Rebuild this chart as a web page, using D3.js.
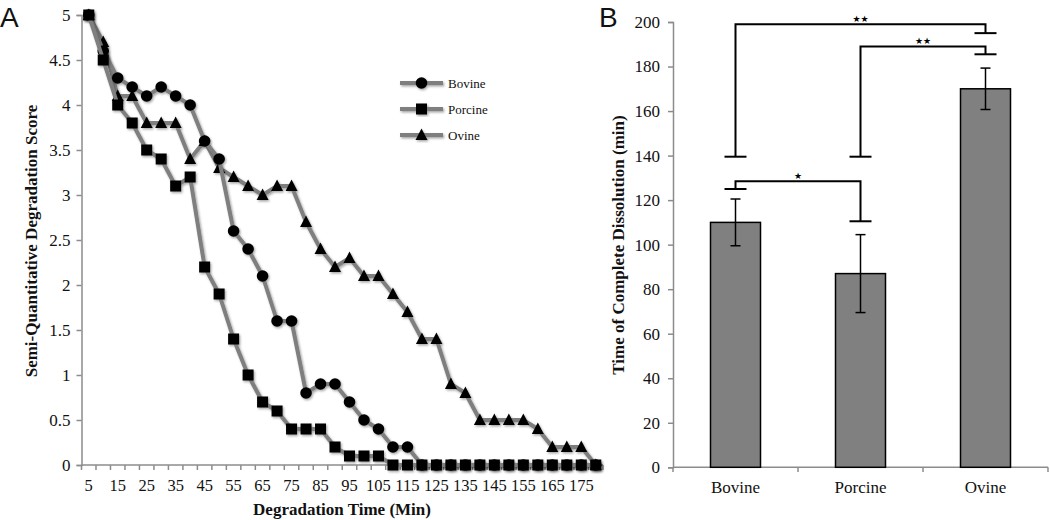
<!DOCTYPE html>
<html>
<head>
<meta charset="utf-8">
<script src="https://cdn.jsdelivr.net/npm/d3@7"></script>
<style>
  html, body { margin: 0; padding: 0; background: #fff; }
  svg { display: block; }
</style>
</head>
<body>
<svg id="chart" width="1050" height="520"></svg>
<script>
// ---------- Data: panel A ----------
const times = [5,10,15,20,25,30,35,40,45,50,55,60,65,70,75,80,85,90,95,100,105,110,115,120,125,130,135,140,145,150,155,160,165,170,175,180];
const bovine  = [5,4.6,4.3,4.2,4.1,4.2,4.1,4.0,3.6,3.4,2.6,2.4,2.1,1.6,1.6,0.8,0.9,0.9,0.7,0.5,0.4,0.2,0.2,0,0,0,0,0,0,0,0,0,0,0,0,0];
const porcine = [5,4.5,4.0,3.8,3.5,3.4,3.1,3.2,2.2,1.9,1.4,1.0,0.7,0.6,0.4,0.4,0.4,0.2,0.1,0.1,0.1,0,0,0,0,0,0,0,0,0,0,0,0,0,0,0];
const ovine   = [5,4.7,4.1,4.1,3.8,3.8,3.8,3.4,3.6,3.3,3.2,3.1,3.0,3.1,3.1,2.7,2.4,2.2,2.3,2.1,2.1,1.9,1.7,1.4,1.4,0.9,0.8,0.5,0.5,0.5,0.5,0.4,0.2,0.2,0.2,0];
const seriesNames = ["Bovine","Porcine","Ovine"];
const seriesShapes = ["circle","square","triangle"];
const xTickLabels = [5,15,25,35,45,55,65,75,85,95,105,115,125,135,145,155,165,175];
const yTicksA = [0,0.5,1,1.5,2,2.5,3,3.5,4,4.5,5];

// ---------- Data: panel B ----------
const groups = ["Bovine","Porcine","Ovine"];
const dissolution = [110, 87, 170];
const dissolutionErr = [10.5, 17.5, 9.3];
const yTicksB = [0,20,40,60,80,100,120,140,160,180,200];
const brackets = [
  {from:"Bovine",  to:"Ovine",   start:139.5, top:199,   end:195,   label:"★★"},
  {from:"Porcine", to:"Ovine",   start:139.5, top:189,   end:185.5, label:"★★"},
  {from:"Bovine",  to:"Porcine", start:125,   top:128.5, end:110.5, label:"★"}
];

const svg = d3.select("#chart");
const serif = "'Liberation Serif', 'Times New Roman', serif";
const sans = "'Liberation Sans', Arial, sans-serif";
const axisGrey = "#8c8c8c";
const fs = 17;
const fsTick = 16.5;

const defs = svg.append("defs");
const f = defs.append("filter").attr("id","shadow").attr("x","-20%").attr("y","-20%").attr("width","140%").attr("height","140%");
f.append("feDropShadow").attr("dx",1.2).attr("dy",1.5).attr("stdDeviation",1.1).attr("flood-color","#000").attr("flood-opacity",0.35);

// ================= Panel A =================
const xA = d3.scaleBand().domain(times).range([81.5, 603]).padding(0);
const yA = d3.scaleLinear().domain([0,5]).range([465, 15]);

// Y axis
const gyA = svg.append("g").attr("transform","translate(81.5,0)")
  .call(d3.axisLeft(yA).tickValues(yTicksA).tickSize(5).tickPadding(6).tickFormat(d => d));
gyA.select(".domain").attr("stroke", axisGrey).attr("stroke-width", 1.5);
gyA.selectAll(".tick line").attr("stroke", axisGrey).attr("stroke-width", 1.5);
gyA.selectAll("text").attr("font-family", serif).attr("font-size", fs).attr("fill","#111");

// X axis: domain line + ticks at band edges + labels
const edges = times.map(t => xA(t)).concat([xA.range()[1]]);
svg.append("line").attr("x1", 81.5).attr("x2", 603).attr("y1", 465).attr("y2", 465)
  .attr("stroke", axisGrey).attr("stroke-width", 1.5);
svg.append("g").selectAll("line").data(edges).join("line")
  .attr("x1", d => d).attr("x2", d => d).attr("y1", 465).attr("y2", 470)
  .attr("stroke", axisGrey).attr("stroke-width", 1.5);
svg.append("g").selectAll("text").data(xTickLabels).join("text")
  .attr("x", d => xA(d) + xA.bandwidth()/2).attr("y", 491)
  .attr("text-anchor","middle").attr("font-family", serif).attr("font-size", fsTick).attr("fill","#111")
  .text(d => d);

// Axis titles
svg.append("text").attr("x", 342).attr("y", 515).attr("text-anchor","middle")
  .attr("font-family", serif).attr("font-weight","bold").attr("font-size", fs).attr("fill","#111")
  .text("Degradation Time (Min)");
svg.append("text").attr("transform","translate(37,241) rotate(-90)").attr("text-anchor","middle")
  .attr("font-family", serif).attr("font-weight","bold").attr("font-size", fs).attr("fill","#111")
  .text("Semi-Quantitative Degradation Score");

// Series
const allSeries = [bovine, porcine, ovine];
const line = d3.line().x((d,i) => xA(times[i]) + xA.bandwidth()/2).y(d => yA(d));
function drawMarker(g, shape, cx, cy) {
  if (shape === "circle") {
    g.append("circle").attr("cx", cx).attr("cy", cy).attr("r", 5.8).attr("fill","#000");
  } else if (shape === "square") {
    g.append("rect").attr("x", cx-5.5).attr("y", cy-5.5).attr("width",11).attr("height",11).attr("fill","#000");
  } else {
    const s = 12;
    g.append("path").attr("d", `M${cx},${cy-s*0.55}L${cx+s/2},${cy+s*0.42}L${cx-s/2},${cy+s*0.42}Z`).attr("fill","#000");
  }
}
// draw order: ovine, bovine, porcine (porcine squares on top at zero)
[2,0,1].forEach(si => {
  const g = svg.append("g").attr("filter","url(#shadow)");
  g.append("path").datum(allSeries[si]).attr("d", line)
    .attr("fill","none").attr("stroke","#7f7f7f").attr("stroke-width",4).attr("stroke-linejoin","round");
  allSeries[si].forEach((v,i) => drawMarker(g, seriesShapes[si], xA(times[i]) + xA.bandwidth()/2, yA(v)));
});

// Legend
const legY = [83, 109, 135];
seriesNames.forEach((name, i) => {
  const g = svg.append("g").attr("filter","url(#shadow)");
  g.append("line").attr("x1", 400).attr("x2", 443).attr("y1", legY[i]).attr("y2", legY[i])
    .attr("stroke","#7f7f7f").attr("stroke-width",4);
  drawMarker(g, seriesShapes[i], 421.5, legY[i]);
  svg.append("text").attr("x", 448).attr("y", legY[i] + 4.5)
    .attr("font-family", serif).attr("font-size", 13).attr("fill","#111").text(name);
});

svg.append("text").attr("x", 0).attr("y", 26.5).attr("font-family", sans)
  .attr("font-size", 28).attr("fill","#111").text("A");

// ================= Panel B =================
const xB = d3.scaleBand().domain(groups).range([673, 1048]).paddingInner(0.6).paddingOuter(0.3);
const yB = d3.scaleLinear().domain([0,200]).range([467.3, 22]);
const cx = g => xB(g) + xB.bandwidth()/2;

const gyB = svg.append("g").attr("transform","translate(673,0)")
  .call(d3.axisLeft(yB).tickValues(yTicksB).tickSize(5).tickPadding(8).tickFormat(d => d));
gyB.select(".domain").attr("stroke", axisGrey).attr("stroke-width", 1.5);
gyB.selectAll(".tick line").attr("stroke", axisGrey).attr("stroke-width", 1.5);
gyB.selectAll("text").attr("font-family", serif).attr("font-size", fs).attr("fill","#111");

// X axis B
const step = xB.step();
const edgesB = d3.range(groups.length + 1).map(i => 673 + i * step);
svg.append("line").attr("x1", 673).attr("x2", 1048).attr("y1", 467.3).attr("y2", 467.3)
  .attr("stroke", axisGrey).attr("stroke-width", 1.5);
svg.append("g").selectAll("line").data(edgesB).join("line")
  .attr("x1", d => d).attr("x2", d => d).attr("y1", 467.3).attr("y2", 472)
  .attr("stroke", axisGrey).attr("stroke-width", 1.5);
svg.append("g").selectAll("text").data(groups).join("text")
  .attr("x", d => cx(d)).attr("y", 493).attr("text-anchor","middle")
  .attr("font-family", serif).attr("font-size", fs).attr("fill","#111").text(d => d);

svg.append("text").attr("transform","translate(624,245) rotate(-90)").attr("text-anchor","middle")
  .attr("font-family", serif).attr("font-weight","bold").attr("font-size", fs).attr("fill","#111")
  .text("Time of Complete Dissolution (min)");

// Bars
svg.append("g").selectAll("rect").data(groups).join("rect")
  .attr("x", d => xB(d)).attr("width", xB.bandwidth())
  .attr("y", (d,i) => yB(dissolution[i])).attr("height", (d,i) => yB(0) - yB(dissolution[i]))
  .attr("fill","#808080").attr("stroke","#000").attr("stroke-width",1.5);

// Error bars
const eg = svg.append("g").attr("stroke","#000").attr("stroke-width",1.5);
groups.forEach((gname,i) => {
  const x = cx(gname), hi = yB(dissolution[i] + dissolutionErr[i]), lo = yB(dissolution[i] - dissolutionErr[i]);
  eg.append("line").attr("x1",x).attr("x2",x).attr("y1",hi).attr("y2",lo);
  eg.append("line").attr("x1",x-5).attr("x2",x+5).attr("y1",hi).attr("y2",hi);
  eg.append("line").attr("x1",x-5).attr("x2",x+5).attr("y1",lo).attr("y2",lo);
});

// Significance brackets
const bg = svg.append("g").attr("stroke","#000").attr("stroke-width",2).attr("fill","none");
brackets.forEach(b => {
  const x1 = cx(b.from), x2 = cx(b.to);
  bg.append("path").attr("d",
    `M${x1},${yB(b.start)}V${yB(b.top)}H${x2}V${yB(b.end)}`);
  bg.append("line").attr("x1",x1-11).attr("x2",x1+11).attr("y1",yB(b.start)).attr("y2",yB(b.start));
  bg.append("line").attr("x1",x2-11).attr("x2",x2+11).attr("y1",yB(b.end)).attr("y2",yB(b.end));
  svg.append("text").attr("x",(x1+x2)/2).attr("y",yB(b.top)-2.5).attr("text-anchor","middle")
    .attr("font-family","'DejaVu Sans', sans-serif").attr("font-size",9).attr("fill","#000").text(b.label);
});

svg.append("text").attr("x", 599).attr("y", 26.5).attr("font-family", sans)
  .attr("font-size", 28).attr("fill","#111").text("B");
</script>
</body>
</html>
